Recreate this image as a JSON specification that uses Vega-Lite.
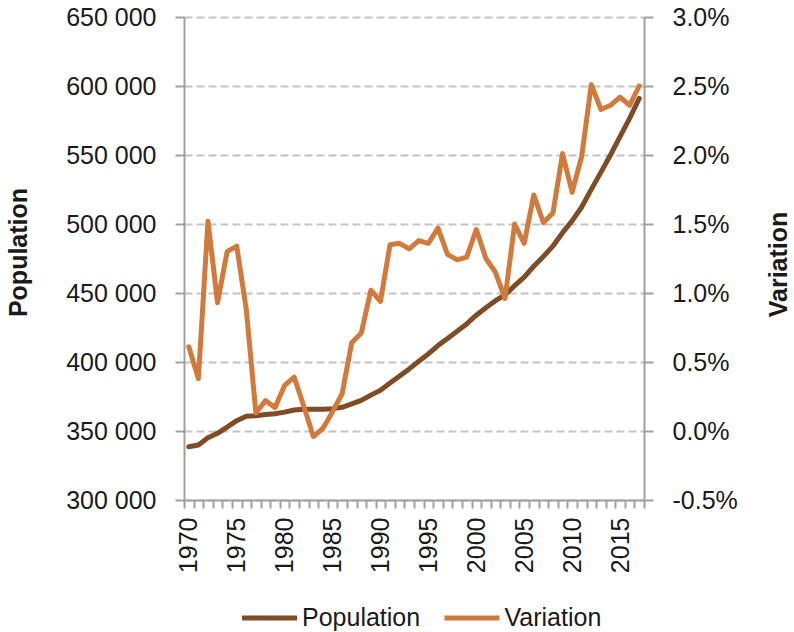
{
  "$schema": "https://vega.github.io/schema/vega-lite/v6.json",
  "width": 460,
  "height": 483,
  "autosize": {"type": "none"},
  "padding": {"left": 184, "top": 17, "right": 150, "bottom": 132},
  "background": "white",
  "config": {
    "view": {"stroke": null},
    "font": "Liberation Sans",
    "axis": {
      "domainColor": "#a0a0a0",
      "domainWidth": 2,
      "tickColor": "#a0a0a0",
      "tickWidth": 2,
      "labelColor": "#1a1a1a",
      "labelFontSize": 25,
      "titleColor": "#1a1a1a",
      "titleFontSize": 25,
      "titleFontWeight": "bold"
    }
  },
  "data": {
    "values": [
      {"year": 1970, "population": 338600, "variation": 0.0061},
      {"year": 1971, "population": 339900, "variation": 0.0038},
      {"year": 1972, "population": 345100, "variation": 0.0152},
      {"year": 1973, "population": 348300, "variation": 0.0093},
      {"year": 1974, "population": 352800, "variation": 0.0130},
      {"year": 1975, "population": 357500, "variation": 0.0134},
      {"year": 1976, "population": 360700, "variation": 0.0088},
      {"year": 1977, "population": 361100, "variation": 0.0013},
      {"year": 1978, "population": 361900, "variation": 0.0022},
      {"year": 1979, "population": 362500, "variation": 0.0017},
      {"year": 1980, "population": 363700, "variation": 0.0033},
      {"year": 1981, "population": 365200, "variation": 0.0039},
      {"year": 1982, "population": 365800, "variation": 0.0018},
      {"year": 1983, "population": 365700, "variation": -0.0004},
      {"year": 1984, "population": 365700, "variation": 0.0002},
      {"year": 1985, "population": 366200, "variation": 0.0014},
      {"year": 1986, "population": 367200, "variation": 0.0027},
      {"year": 1987, "population": 369600, "variation": 0.0064},
      {"year": 1988, "population": 372200, "variation": 0.0071},
      {"year": 1989, "population": 376000, "variation": 0.0102},
      {"year": 1990, "population": 379500, "variation": 0.0094},
      {"year": 1991, "population": 384700, "variation": 0.0135},
      {"year": 1992, "population": 389900, "variation": 0.0136},
      {"year": 1993, "population": 395000, "variation": 0.0132},
      {"year": 1994, "population": 400500, "variation": 0.0138},
      {"year": 1995, "population": 405900, "variation": 0.0136},
      {"year": 1996, "population": 411900, "variation": 0.0147},
      {"year": 1997, "population": 417100, "variation": 0.0128},
      {"year": 1998, "population": 422300, "variation": 0.0124},
      {"year": 1999, "population": 427600, "variation": 0.0126},
      {"year": 2000, "population": 433900, "variation": 0.0146},
      {"year": 2001, "population": 439300, "variation": 0.0125},
      {"year": 2002, "population": 444400, "variation": 0.0115},
      {"year": 2003, "population": 448600, "variation": 0.0096},
      {"year": 2004, "population": 455300, "variation": 0.0150},
      {"year": 2005, "population": 461500, "variation": 0.0136},
      {"year": 2006, "population": 469400, "variation": 0.0171},
      {"year": 2007, "population": 476500, "variation": 0.0151},
      {"year": 2008, "population": 484000, "variation": 0.0158},
      {"year": 2009, "population": 493700, "variation": 0.0201},
      {"year": 2010, "population": 502300, "variation": 0.0173},
      {"year": 2011, "population": 512300, "variation": 0.0199},
      {"year": 2012, "population": 525100, "variation": 0.0251},
      {"year": 2013, "population": 537400, "variation": 0.0233},
      {"year": 2014, "population": 550000, "variation": 0.0236},
      {"year": 2015, "population": 563300, "variation": 0.0242},
      {"year": 2016, "population": 576600, "variation": 0.0236},
      {"year": 2017, "population": 591000, "variation": 0.0250}
    ]
  },
  "encoding": {
    "x": {
      "field": "year",
      "type": "quantitative",
      "scale": {"domain": [1969.5, 2017.5], "nice": false, "zero": false},
      "axis": {
        "title": null,
        "grid": false,
        "values": [1969.5, 1970.5, 1971.5, 1972.5, 1973.5, 1974.5, 1975.5, 1976.5, 1977.5, 1978.5, 1979.5, 1980.5, 1981.5, 1982.5, 1983.5, 1984.5, 1985.5, 1986.5, 1987.5, 1988.5, 1989.5, 1990.5, 1991.5, 1992.5, 1993.5, 1994.5, 1995.5, 1996.5, 1997.5, 1998.5, 1999.5, 2000.5, 2001.5, 2002.5, 2003.5, 2004.5, 2005.5, 2006.5, 2007.5, 2008.5, 2009.5, 2010.5, 2011.5, 2012.5, 2013.5, 2014.5, 2015.5, 2016.5, 2017.5],
        "labelExpr": "(datum.value + 0.5) % 5 === 0 ? toString(datum.value + 0.5) : ''",
        "labelOffset": 4.79,
        "labelAngle": -90,
        "labelAlign": "right",
        "labelBaseline": "middle",
        "labelPadding": 9,
        "labelOverlap": false,
        "tickSize": 8
      }
    }
  },
  "layer": [
    {
      "mark": {"type": "line", "strokeWidth": 5, "strokeJoin": "round", "strokeCap": "round"},
      "encoding": {
        "y": {
          "field": "population",
          "type": "quantitative",
          "scale": {"domain": [300000, 650000], "nice": false, "zero": false},
          "axis": {
            "orient": "left",
            "title": "Population",
            "titleAngle": -90,
            "titleX": -166,
            "titleY": 235,
            "titleAlign": "center",
            "titleBaseline": "middle",
            "values": [300000, 350000, 400000, 450000, 500000, 550000, 600000, 650000],
            "labelExpr": "replace(format(datum.value, ','), ',', ' ')",
            "tickSize": 9,
            "labelPadding": 19,
            "grid": true,
            "gridColor": "#c4c4c4",
            "gridWidth": 2,
            "gridDash": [8, 4]
          }
        },
        "color": {
          "datum": "Population",
          "type": "nominal",
          "scale": {"domain": ["Population", "Variation"], "range": ["#7f4c26", "#d27a3c"]},
          "legend": {
            "orient": "none",
            "legendX": 55.5,
            "legendY": 571,
            "direction": "horizontal",
            "title": null,
            "symbolType": "stroke",
            "symbolSize": 3025,
            "symbolStrokeWidth": 5,
            "labelFontSize": 25,
            "labelColor": "#1a1a1a",
            "labelOffset": 2.5,
            "labelLimit": 300,
            "columnPadding": 13.5,
            "padding": 0
          }
        }
      }
    },
    {
      "mark": {"type": "line", "strokeWidth": 5, "strokeJoin": "round", "strokeCap": "round"},
      "encoding": {
        "y": {
          "field": "variation",
          "type": "quantitative",
          "scale": {"domain": [-0.005, 0.03], "nice": false, "zero": false},
          "axis": {
            "orient": "right",
            "title": "Variation",
            "titleAngle": -90,
            "titleX": 134,
            "titleY": 247,
            "titleAlign": "center",
            "titleBaseline": "middle",
            "values": [-0.005, 0, 0.005, 0.01, 0.015, 0.02, 0.025, 0.03],
            "labelExpr": "replace(format(datum.value, '.1%'), '\u2212', '-')",
            "tickSize": 9,
            "labelPadding": 19,
            "grid": false
          }
        },
        "color": {"datum": "Variation", "type": "nominal"}
      }
    }
  ],
  "resolve": {"scale": {"y": "independent"}}
}
